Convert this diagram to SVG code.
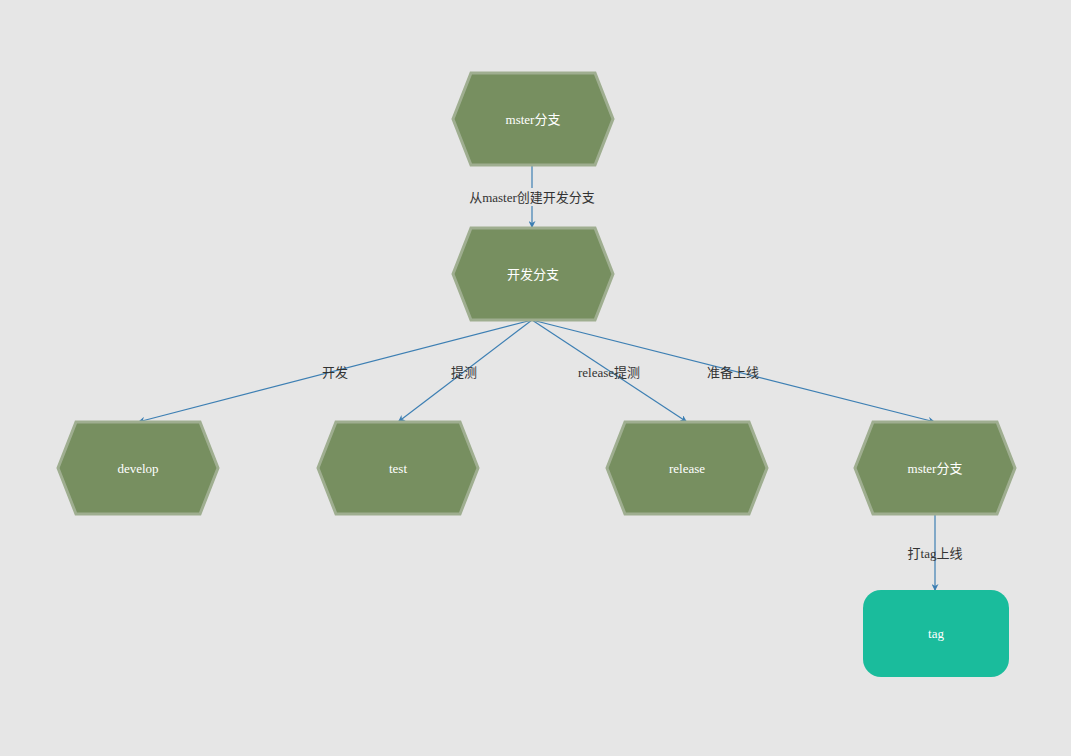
<svg xmlns="http://www.w3.org/2000/svg" width="1071" height="756" viewBox="0 0 1071 756">
<style>
.hex{fill:#778f60;stroke:#9fae90;stroke-width:3}
.nt{fill:#ffffff;font-family:"Liberation Serif","Noto Sans CJK SC",serif;font-size:13px;text-anchor:middle;dominant-baseline:central}
.et{fill:#333333;font-family:"Liberation Serif","Noto Sans CJK SC",serif;font-size:13px;text-anchor:middle;dominant-baseline:central}
.edge{fill:none;stroke:#3d7fb3;stroke-width:1.2;marker-end:url(#arr)}
</style>
<defs>
<marker id="arr" viewBox="0 0 10 10" refX="10" refY="5" markerWidth="7" markerHeight="7" markerUnits="userSpaceOnUse" orient="auto">
<path d="M0,0 L10,5 L0,10 L3,5 z" fill="#3d7fb3"/>
</marker>
</defs>
<rect width="1071" height="756" fill="#e6e6e6"/>
<g id="edges">
<line class="edge" x1="532" y1="165" x2="532" y2="228"/>
<rect x="464" y="188" width="136" height="18" fill="#e6e6e6"/>
<text class="et" x="532" y="197">从master创建开发分支</text>
<line class="edge" x1="532" y1="320" x2="138" y2="422"/>
<text class="et" x="335" y="372">开发</text>
<line class="edge" x1="532" y1="320" x2="398" y2="422"/>
<text class="et" x="464" y="372">提测</text>
<line class="edge" x1="532" y1="320" x2="687" y2="422"/>
<text class="et" x="609" y="372">release提测</text>
<line class="edge" x1="532" y1="320" x2="935" y2="422"/>
<text class="et" x="733" y="372">准备上线</text>
<line class="edge" x1="935" y1="514" x2="935" y2="591"/>
<text class="et" x="935" y="553">打tag上线</text>
</g>
<g id="n-master">
<polygon class="hex" points="471,73 595,73 613,119 595,165 471,165 453,119"/>
<text class="nt" x="533" y="119">mster分支</text>
</g>
<g id="n-dev">
<polygon class="hex" points="471,228 595,228 613,274 595,320 471,320 453,274"/>
<text class="nt" x="533" y="274">开发分支</text>
</g>
<g id="n-develop">
<polygon class="hex" points="76,422 200,422 218,468 200,514 76,514 58,468"/>
<text class="nt" x="138" y="468">develop</text>
</g>
<g id="n-test">
<polygon class="hex" points="336,422 460,422 478,468 460,514 336,514 318,468"/>
<text class="nt" x="398" y="468">test</text>
</g>
<g id="n-release">
<polygon class="hex" points="625,422 749,422 767,468 749,514 625,514 607,468"/>
<text class="nt" x="687" y="468">release</text>
</g>
<g id="n-master2">
<polygon class="hex" points="873,422 997,422 1015,468 997,514 873,514 855,468"/>
<text class="nt" x="935" y="468">mster分支</text>
</g>
<g id="n-tag">
<rect x="863" y="590" width="146" height="87" rx="18" fill="#1abc9c"/>
<text class="nt" x="936" y="633">tag</text>
</g>
</svg>
